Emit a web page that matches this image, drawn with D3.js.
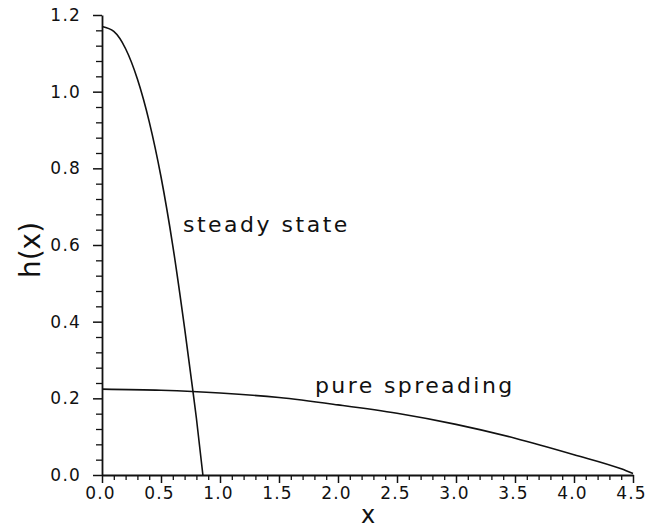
<!DOCTYPE html>
<html>
<head>
<meta charset="utf-8">
<script src="https://cdn.jsdelivr.net/npm/d3@7/dist/d3.min.js"></script>
<style>
  html, body { margin: 0; padding: 0; background: #fff; }
  svg { display: block; }
  text { font-family: "DejaVu Sans", sans-serif; fill: #111; }
</style>
</head>
<body>
<svg id="chart" width="659" height="531"></svg>
<script>
// ---- data ----
const steadyX = [0, 0.1, 0.2, 0.3, 0.4, 0.5, 0.6, 0.7, 0.77, 0.8, 0.855];
const steadyH = [1.17, 1.157, 1.112, 1.033, 0.922, 0.778, 0.598, 0.383, 0.22, 0.148, 0.0];

const spreadX = [0, 0.5, 1.0, 1.5, 2.0, 2.5, 3.0, 3.5, 4.0, 4.4, 4.5];
const spreadH = [0.224, 0.221, 0.214, 0.202, 0.183, 0.161, 0.132, 0.096, 0.053, 0.016, 0.004];

const xTickValues = [0, 0.5, 1.0, 1.5, 2.0, 2.5, 3.0, 3.5, 4.0, 4.5];
const yTickValues = [0, 0.2, 0.4, 0.6, 0.8, 1.0, 1.2];
const xLabel = "x";
const yLabel = "h(x)";
const curveLabels = ["steady state", "pure spreading"];

// ---- layout ----
const svg = d3.select("#chart");
const x = d3.scaleLinear().domain([0, 4.5]).range([102, 633]);
const y = d3.scaleLinear().domain([0, 1.2]).range([475, 15]);

const xMinor = d3.range(0, 45.5, 1).map(d => d / 10).filter(d => Math.round(d * 10) % 5 !== 0);
const yMinor = d3.range(0, 30.5, 1).map(d => d / 25).filter(d => Math.round(d * 25) % 5 !== 0);

// minor ticks
svg.append("g").attr("transform", "translate(0,475)")
  .call(d3.axisBottom(x).tickValues(xMinor).tickSize(5).tickSizeOuter(0).tickFormat(""))
  .call(g => g.select(".domain").remove())
  .call(g => g.selectAll("line").attr("stroke", "#111").attr("stroke-width", 1.3));
svg.append("g").attr("transform", "translate(102,0)")
  .call(d3.axisLeft(y).tickValues(yMinor).tickSize(6).tickSizeOuter(0).tickFormat(""))
  .call(g => g.select(".domain").remove())
  .call(g => g.selectAll("line").attr("stroke", "#111").attr("stroke-width", 1.3));

// major ticks + labels
const gx = svg.append("g").attr("transform", "translate(0,475)")
  .call(d3.axisBottom(x).tickValues(xTickValues).tickSize(8).tickSizeOuter(0)
    .tickPadding(3.5).tickFormat(d3.format(".1f")));
gx.select(".domain").attr("stroke", "#111").attr("stroke-width", 1.8);
gx.selectAll("line").attr("stroke", "#111").attr("stroke-width", 1.5);
gx.selectAll("text").attr("font-family", "DejaVu Sans, sans-serif").attr("font-size", 17)
  .attr("fill", "#111").style("letter-spacing", "1.2px").attr("dx", -2);

const gy = svg.append("g").attr("transform", "translate(102,0)")
  .call(d3.axisLeft(y).tickValues(yTickValues).tickSize(9).tickSizeOuter(0)
    .tickPadding(12).tickFormat(d3.format(".1f")));
gy.select(".domain").attr("stroke", "#111").attr("stroke-width", 1.8);
gy.selectAll("line").attr("stroke", "#111").attr("stroke-width", 1.5);
gy.selectAll("text").attr("font-family", "DejaVu Sans, sans-serif").attr("font-size", 17)
  .attr("fill", "#111").style("letter-spacing", "1.2px");

// axis titles
svg.append("text").attr("x", 368).attr("y", 523).attr("text-anchor", "middle")
  .attr("font-size", 24).text(xLabel);
svg.append("text").attr("transform", "translate(40,250) rotate(-90)")
  .attr("text-anchor", "middle").attr("font-size", 28).text(yLabel);

// curves
const line = d3.line().x(d => x(d[0])).y(d => y(d[1])).curve(d3.curveMonotoneX);
svg.append("path").datum(d3.zip(steadyX, steadyH)).attr("d", line)
  .attr("fill", "none").attr("stroke", "#111").attr("stroke-width", 1.6);
svg.append("path").datum(d3.zip(spreadX, spreadH)).attr("d", line)
  .attr("fill", "none").attr("stroke", "#111").attr("stroke-width", 1.6);

// curve labels
svg.append("text").attr("x", 183).attr("y", 232).attr("font-size", 22)
  .style("letter-spacing", "2.5px").text(curveLabels[0]);
svg.append("text").attr("x", 315).attr("y", 393).attr("font-size", 22)
  .style("letter-spacing", "2.4px").text(curveLabels[1]);
</script>
</body>
</html>
